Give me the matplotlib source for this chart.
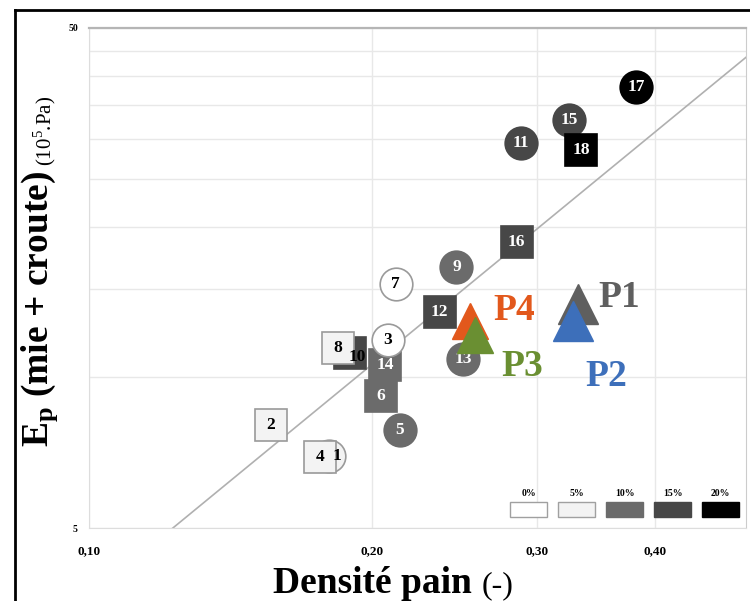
import numpy as np
import matplotlib
matplotlib.use('Agg')
import matplotlib.pyplot as plt
from matplotlib.lines import Line2D
from matplotlib.patches import Rectangle
from matplotlib.ticker import NullFormatter

plt.rcParams['font.family'] = ['Liberation Serif', 'DejaVu Serif']
plt.rcParams['mathtext.fontset'] = 'custom'
plt.rcParams['mathtext.rm'] = 'Liberation Serif'
plt.rcParams['mathtext.bf'] = 'Liberation Serif:bold'

# essais 1..18 (odd = circle, even = square)
num = list(range(1, 19))
densite = [0.180, 0.156, 0.208, 0.176, 0.214, 0.2045, 0.212, 0.184, 0.246,
           0.1895, 0.288, 0.236, 0.250, 0.2065, 0.324, 0.285, 0.382, 0.334]
module = [6.95, 8.04, 11.9, 6.93, 7.85, 9.18, 15.4, 11.45, 16.6,
          11.2, 29.4, 13.5, 10.9, 10.6, 32.7, 18.7, 38.1, 28.5]
pourcent = [5, 5, 0, 5, 10, 10, 0, 5, 10, 15, 15, 15, 10, 10, 15, 15, 20, 20]

# produits P1..P4
produits = ['P1', 'P2', 'P3', 'P4']
dens_p = [0.331, 0.327, 0.2573, 0.254]
mod_p = [14.0, 13.0, 12.16, 13.0]

# droite de tendance  E = a * d^b
a_fit = 127.4
b_fit = 1.544
x_fit = [0.1228, 0.5]

legende_pct = [0, 5, 10, 15, 20]
xtick_vals = [0.1, 0.2, 0.3, 0.4]
xtick_lab = ['0,10', '0,20', '0,30', '0,40']
ytick_vals = [5, 50]
ytick_lab = ['5', '50']

gris = {0: '#ffffff', 5: '#f3f3f3', 10: '#6b6b6b', 15: '#474747', 20: '#000000'}
couleurs_p = {'P1': '#5f5f5f', 'P2': '#3d6fba', 'P3': '#6a8f32', 'P4': '#e2581c'}
taille_p = {'P1': 29, 'P2': 29, 'P3': 26, 'P4': 26}
decal_p = {'P1': (30, 5), 'P2': (24, -40), 'P3': (34, -23), 'P4': (32, 7)}
ordre_p = ['P1', 'P2', 'P4', 'P3']

fig = plt.figure(figsize=(7.5, 6.01), dpi=100)
ax = fig.add_axes([89 / 750, 1 - 528 / 601, 657 / 750, 500 / 601])
ax.set_xscale('log')
ax.set_yscale('log')
ax.set_xlim(0.1, 0.5)
ax.set_ylim(5, 50)

ax.set_xticks(xtick_vals, xtick_lab)
ax.set_xticks([], minor=True)
ax.set_yticks(ytick_vals, ytick_lab)
ax.set_yticks(np.arange(10, 50, 5), minor=True)
ax.yaxis.set_minor_formatter(NullFormatter())
ax.xaxis.set_minor_formatter(NullFormatter())
ax.tick_params(which='both', length=0)
ax.tick_params(axis='x', pad=12, labelsize=9.5)
ax.tick_params(axis='y', pad=8, labelsize=7)
for lab in ax.get_xticklabels() + ax.get_yticklabels():
    lab.set_fontweight('bold')
ax.grid(True, which='both', color='#e8e8e8', lw=1)
ax.set_axisbelow(True)
for s in ['left', 'bottom']:
    ax.spines[s].set_color('#dddddd')
ax.spines['top'].set_color('#b5b5b5')
ax.spines['top'].set_linewidth(1.6)
ax.spines['right'].set_color('#cccccc')

xf = np.array(x_fit)
ax.plot(xf, a_fit * xf ** b_fit, color='#b0b0b0', lw=1.2, zorder=2)

# draw order for overlapping markers
ordre = [10, 1, 2, 4, 14, 6, 3, 5, 7, 8, 9, 11, 12, 13, 15, 16, 17, 18]
for z, n in enumerate(ordre):
    i = n - 1
    forme = 'o' if n % 2 == 1 else 's'
    pct = pourcent[i]
    edge = '#9a9a9a' if pct <= 5 else gris[pct]
    ax.plot(densite[i], module[i], marker=forme, ms=23.5, mfc=gris[pct],
            mec=edge, mew=1.2, ls='none', zorder=3 + z * 0.01)

decal_num = {1: (6, 0), 10: (5, -3)}
for i, n in enumerate(num):
    pct = pourcent[i]
    c = 'black' if pct <= 5 or n == 10 else 'white'
    ax.annotate(str(n), (densite[i], module[i]), xytext=decal_num.get(n, (0, 0)),
                textcoords='offset points', ha='center', va='center',
                fontsize=12.5, fontweight='bold', color=c, zorder=5)

for k, p in enumerate(ordre_p):
    i = produits.index(p)
    ax.plot(dens_p[i], mod_p[i], marker='^', ms=taille_p[p], color=couleurs_p[p],
            mec=couleurs_p[p], ls='none', zorder=6 + k * 0.01)
    ax.annotate(p, (dens_p[i], mod_p[i]), xytext=decal_p[p], textcoords='offset points',
                ha='center', va='center', fontsize=27, fontweight='bold',
                color=couleurs_p[p], zorder=7)

# legende (boxes with percent above)
x0, dx, w, h = (510 - 89) / 657, 48 / 657, 37 / 657, 15 / 500
for k, pct in enumerate(legende_pct):
    xr = x0 + k * dx
    ax.add_patch(Rectangle((xr, 0.022), w, h, transform=ax.transAxes,
                           facecolor=gris[pct], edgecolor='#a0a0a0' if pct <= 5 else gris[pct],
                           lw=1, zorder=8))
    ax.text(xr + w / 2, 0.07, f'{pct}%', transform=ax.transAxes, ha='center', va='center',
            fontsize=7, fontweight='bold', zorder=8)

# axis titles
tx = fig.text(273 / 750, 8 / 601, 'Densité pain', fontsize=27, fontweight='bold',
              ha='left', va='baseline')
ty = fig.text(48 / 750, 1 - 447 / 601, r'$\mathbf{E_p}$ (mie + croute)', fontsize=27,
              fontweight='bold', rotation=90, rotation_mode='anchor', ha='left', va='baseline')
fig.canvas.draw()
bx = tx.get_window_extent()
by = ty.get_window_extent()
fig.text((bx.x1 + 10) / 750, 8 / 601, '(-)', fontsize=23, ha='left', va='baseline')
fig.text(51 / 750, (by.y1 + 5) / 601, r'(10$^5$.Pa)', fontsize=15, rotation=90,
         rotation_mode='anchor', ha='left', va='baseline')

# outer frame
fig.add_artist(Line2D([15 / 750, 15 / 750], [0, 1 - 10 / 601], color='black', lw=2))
fig.add_artist(Line2D([15 / 750, 1], [1 - 10 / 601, 1 - 10 / 601], color='black', lw=2))

fig.savefig('out.png', dpi=100)
